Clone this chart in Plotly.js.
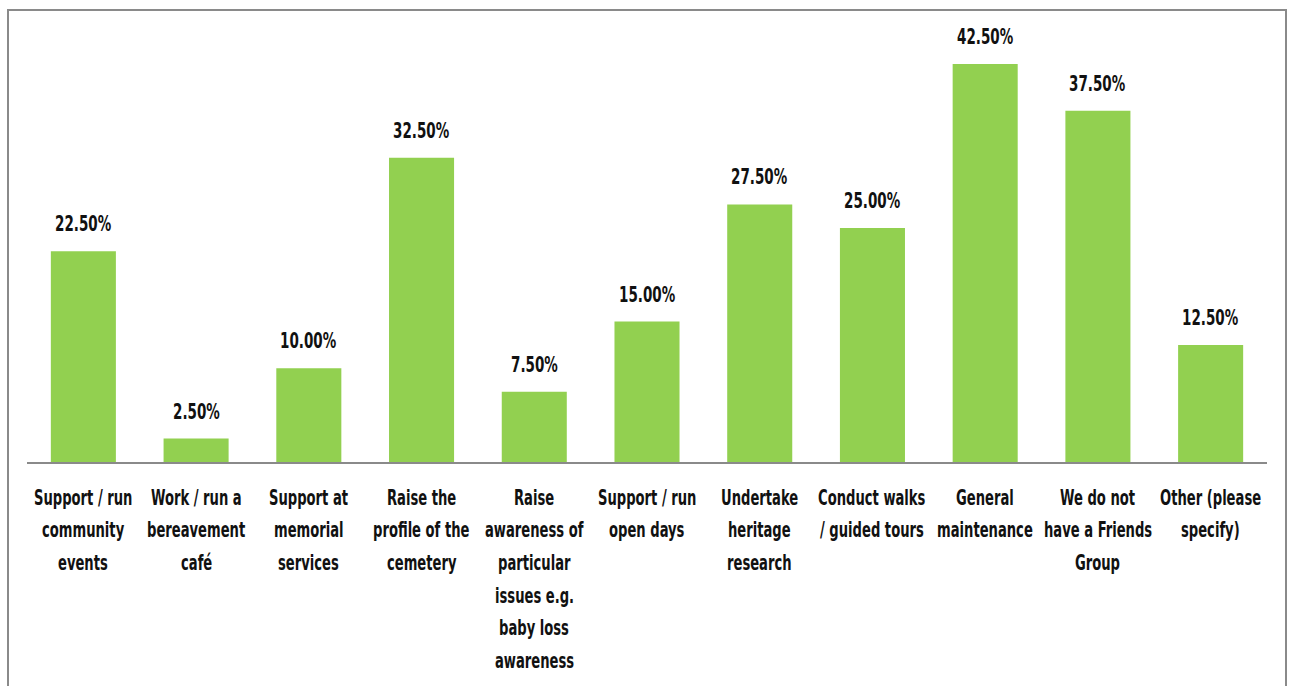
<!DOCTYPE html>
<html>
<head>
<meta charset="utf-8">
<script src="https://cdn.plot.ly/plotly-3.0.1.min.js"></script>
<style>
html,body{margin:0;padding:0;background:#fff;}
#wrap{position:relative;width:1291px;height:686px;}
#chart{position:absolute;left:0;top:0;width:1291px;height:686px;}
#frame{position:absolute;left:7px;top:9px;width:1276px;height:700px;border-top:2px solid #8a8a8a;border-left:2px solid #8a8a8a;border-right:2px solid #8a8a8a;pointer-events:none;}
</style>
</head>
<body>
<div id="wrap"><div id="chart"></div><div id="frame"></div></div>
<script>
const categories = [
  "Support / run<br>community<br>events",
  "Work / run a<br>bereavement<br>café",
  "Support at<br>memorial<br>services",
  "Raise the<br>profile of the<br>cemetery",
  "Raise<br>awareness of<br>particular<br>issues e.g.<br>baby loss<br>awareness",
  "Support / run<br>open days",
  "Undertake<br>heritage<br>research",
  "Conduct walks<br>/ guided tours",
  "General<br>maintenance",
  "We do not<br>have a Friends<br>Group",
  "Other (please<br>specify)"
];
const values = [22.5, 2.5, 10.0, 32.5, 7.5, 15.0, 27.5, 25.0, 42.5, 37.5, 12.5];
const valueLabels = ["22.50%","2.50%","10.00%","32.50%","7.50%","15.00%","27.50%","25.00%","42.50%","37.50%","12.50%"];

const FONT = '"DejaVu Sans Condensed", "Liberation Sans", sans-serif';
const STRETCH = 1.4;
const annotations = [];
categories.forEach((c, i) => {
  annotations.push({
    x: c, y: values[i], xref: 'x', yref: 'y', text: '<b>' + valueLabels[i] + '</b>',
    showarrow: false, yanchor: 'middle', yshift: 27,
    font: {family: FONT, size: 15, color: '#111'}
  });
  c.split('<br>').forEach((line, k) => {
    annotations.push({
      x: c, y: 0, xref: 'x', yref: 'paper', text: '<b>' + line + '</b>',
      showarrow: false, yanchor: 'middle', yshift: -(35 + k * 32.7),
      font: {family: FONT, size: 14.6, color: '#111'}
    });
  });
});

const trace = {
  type: 'bar', x: categories, y: values,
  marker: {color: '#92D050'}, hoverinfo: 'none'
};
const layout = {
  width: 1291, height: 686,
  margin: {l: 27, r: 24, t: 30, b: 224},
  paper_bgcolor: '#fff', plot_bgcolor: '#fff',
  bargap: 0.423,
  showlegend: false,
  xaxis: {showticklabels: false, ticks: '', showgrid: false, zeroline: false,
          showline: true, linecolor: '#8a8a8a', linewidth: 2, fixedrange: true},
  yaxis: {range: [0, 46.13], visible: false, showgrid: false, zeroline: false, fixedrange: true},
  annotations: annotations
};
Plotly.newPlot('chart', [trace], layout, {displayModeBar: false, staticPlot: true}).then(gd => {
  gd.querySelectorAll('.annotation-text').forEach(t => {
    const b = t.getBBox();
    const cy = b.y + b.height / 2;
    const prev = t.getAttribute('transform') || '';
    t.setAttribute('transform', prev + ' translate(0 ' + cy + ') scale(1 ' + STRETCH + ') translate(0 ' + (-cy) + ')');
  });
});
</script>
</body>
</html>
